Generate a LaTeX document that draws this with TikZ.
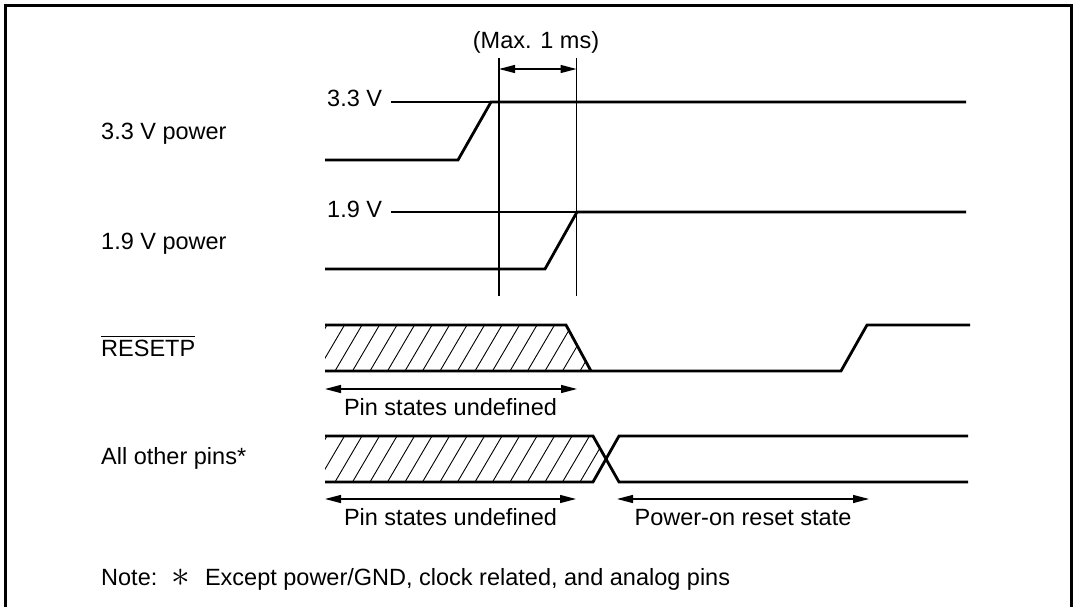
\documentclass[tikz,border=0pt]{standalone}
\usepackage{fontspec}
\setmainfont{Liberation Sans}
\usepackage{graphicx}
\usetikzlibrary{arrows.meta}
\begin{document}
\begin{tikzpicture}[x=1pt,y=-1pt,
  sig/.style={line width=2.8pt, line join=miter},
  refl/.style={line width=1.2pt},
  frame/.style={line width=3pt, line join=miter},
  hatch/.style={line width=0.9pt},
  dim/.style={line width=1.2pt, {Triangle[length=16pt,width=8pt]}-{Triangle[length=16pt,width=8pt]}},
  txt/.style={inner sep=0pt, font=\fontsize{23.5}{28}\selectfont},
  lbl/.style={txt, anchor=base west},
  ctr/.style={txt, anchor=base}
]
\useasboundingbox (0,0) rectangle (1074,607);
% frame
\draw[frame] (5,607) -- (5,6) -- (1071,6) -- (1071,607);

% left labels
\node[lbl] (l33) at (101,139.5) {3.3 V power};
\node[lbl] (l19) at (101,249) {1.9 V power};
\node[lbl] (lrst) at (101,356) {RESETP};
\draw[refl] ([yshift=3pt]lrst.north west) -- ([yshift=3pt]lrst.north east);
\node[lbl] (loth) at (101,464) {All other pins*};

% timing reference
\node[ctr] (max) at (536,49) {(Max. 1 ms)};
\coordinate (v1t) at (499,58);  \coordinate (v1b) at (499,296);
\coordinate (v2t) at (576.5,58); \coordinate (v2b) at (576.5,296);
\draw[refl] (v1t) -- (v1b);
\draw[refl] (v2t) -- (v2b);
\coordinate (m1) at (499,69); \coordinate (m2) at (576.5,69);
\draw[dim] (m1) -- (m2);

% 3.3 V
\node[lbl] (v33) at (327,107) {3.3 V};
\coordinate (r33a) at (391,102); \coordinate (r33b) at (491,102);
\draw[refl] (r33a) -- (r33b);
\draw[sig] (325,160) -- (458,160) -- (r33b) -- (966,102);

% 1.9 V
\node[lbl] (v19) at (327,217) {1.9 V};
\coordinate (r19a) at (391,212); \coordinate (r19b) at (577,212);
\draw[refl] (r19a) -- (r19b);
\draw[sig] (325,269) -- (545,269) -- (r19b) -- (966,212);

% RESETP
\begin{scope}
\clip (325,325) -- (566,325) -- (591,371) -- (325,371) -- cycle;
\foreach \i in {-3,...,16} \draw[hatch] (335+\i*17.5,371) -- ++(27,-46);
\end{scope}
\draw[sig] (325,325) -- (566,325) -- (591,371);
\draw[sig] (325,371) -- (841,371) -- (867,325) -- (970,325);
\coordinate (a1l) at (325,389); \coordinate (a1r) at (577,389);
\draw[dim] (a1l) -- (a1r);
\node[ctr] (u1) at (450.5,415) {Pin states undefined};

% All other pins
\begin{scope}
\clip (325,436) -- (593,436) -- (606,459) -- (593,482) -- (325,482) -- cycle;
\foreach \i in {-3,...,17} \draw[hatch] (335+\i*17.5,482) -- ++(27,-46);
\end{scope}
\draw[sig] (325,436) -- (593,436) -- (619,482) -- (968,482);
\draw[sig] (325,482) -- (593,482) -- (619,436) -- (968,436);
\coordinate (a2l) at (325,499); \coordinate (a2r) at (576,499);
\draw[dim] (a2l) -- (a2r);
\coordinate (a3l) at (617,499); \coordinate (a3r) at (869,499);
\draw[dim] (a3l) -- (a3r);
\node[ctr] (u2) at (450.5,525) {Pin states undefined};
\node[ctr] (por) at (743,525) {Power-on reset state};

% note
\node[lbl] (note) at (101,585) {Note:\hspace{14pt}\raisebox{-1pt}{\scalebox{1.5}{$\ast$}}\hspace{15pt}Except power/GND, clock related, and analog pins};
\end{tikzpicture}
\end{document}
